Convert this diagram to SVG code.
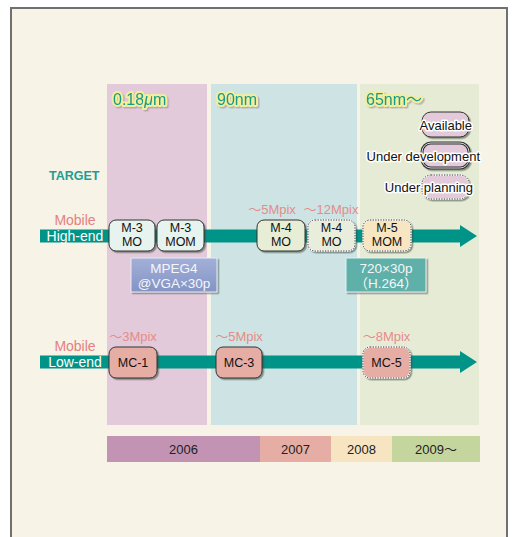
<svg xmlns="http://www.w3.org/2000/svg" width="512" height="537" viewBox="0 0 512 537">
<defs>
<style>
.f{font-family:"Liberation Sans","Noto Sans CJK JP",sans-serif}
.era{font-size:16px;fill:#1a9a88;stroke:#f3ee9c;stroke-width:4;paint-order:stroke;stroke-linejoin:round}
.nt{font-size:12.5px;fill:#111;text-anchor:middle}
.mp{font-size:13px;fill:#e58c8a;text-anchor:middle}
.lg{font-size:13px;fill:#111;stroke:#fff;stroke-width:3;paint-order:stroke;stroke-linejoin:round}
.yr{font-size:13px;fill:#222;text-anchor:middle}
.ww{font-size:13.5px;fill:#f4f6fb;text-anchor:middle}
.solid{stroke:#333;stroke-width:1}
.dot{stroke:#333;stroke-width:1;stroke-dasharray:1.3 1.3}
</style>
<filter id="sh" x="-20%" y="-20%" width="150%" height="150%">
<feDropShadow dx="1.5" dy="1.5" stdDeviation="0.4" flood-color="#3a4a3a" flood-opacity="0.55"/>
</filter>
<filter id="esh" x="-10%" y="-20%" width="130%" height="150%">
<feDropShadow dx="1.5" dy="1.5" stdDeviation="0.3" flood-color="#9c8a9a" flood-opacity="0.6"/>
</filter>
<linearGradient id="mg" x1="0" y1="0" x2="0" y2="1">
<stop offset="0" stop-color="#a3b0d8"/>
<stop offset="1" stop-color="#8393c4"/>
</linearGradient>
</defs>

<rect x="0" y="0" width="512" height="537" fill="#ffffff"/>
<rect x="11" y="8" width="496" height="540" fill="#f7f3e7" stroke="#707070" stroke-width="2"/>

<g id="columns">
<rect x="107" y="84" width="100" height="341" fill="#e2cadb"/>
<rect x="211" y="84" width="146" height="341" fill="#cde3e4"/>
<rect x="360" y="84" width="119" height="341" fill="#e5ebd5"/>
</g>

<g id="eras" filter="url(#esh)">
<text class="era f" x="113" y="105">0.18<tspan font-style="italic">μ</tspan>m</text>
<text class="era f" x="217" y="105">90nm</text>
<text class="era f" x="366" y="105">65nm〜</text>
</g>

<text class="f" x="49" y="180" font-size="12.5" font-weight="bold" fill="#1e9e92">TARGET</text>

<g id="legend">
<rect x="422" y="112" width="47" height="25" rx="9" fill="#e2cadb" stroke="#333" stroke-width="1" filter="url(#sh)"/>
<text class="lg f" x="472" y="130" text-anchor="end">Available</text>
<rect x="422" y="143" width="47" height="25" rx="9" fill="#e2cadb" stroke="#333" stroke-width="3" filter="url(#sh)"/>
<rect x="422" y="143" width="47" height="25" rx="9" fill="none" stroke="#fff" stroke-width="0.8"/>
<text class="lg f" x="480" y="161" text-anchor="end">Under development</text>
<rect x="422" y="175" width="47" height="24" rx="9" fill="#e2cadb" stroke="#fff" stroke-width="1.4" filter="url(#sh)"/>
<rect x="422" y="175" width="47" height="24" rx="9" fill="none" class="dot"/>
<text class="lg f" x="473" y="192" text-anchor="end">Under planning</text>
</g>

<g id="connectors">
<path d="M40,229.5 H460 V225 L477,236 L460,247 V242.5 H40 Z" fill="#009488"/>
<path d="M40,355.5 H460 V351 L477,362 L460,373 V368.5 H40 Z" fill="#009488"/>
</g>

<g id="row-labels">
<text x="75" y="225" font-size="14" fill="#e58080" text-anchor="middle" class="f">Mobile</text>
<text x="75" y="241" font-size="14" fill="#fff" text-anchor="middle" class="f">High-end</text>
<text x="75" y="351" font-size="14" fill="#e58080" text-anchor="middle" class="f">Mobile</text>
<text x="75" y="366.5" font-size="14" fill="#fff" text-anchor="middle" class="f">Low-end</text>
</g>

<g id="m3mo">
<rect x="109" y="220" width="46" height="31" rx="7" fill="#e6f3ee" class="solid" filter="url(#sh)"/>
<text class="nt f" x="132" y="232">M-3</text>
<text class="nt f" x="132" y="246">MO</text>
</g>
<g id="m3mom">
<rect x="157" y="220" width="47" height="31" rx="7" fill="#e6f3ee" class="solid" filter="url(#sh)"/>
<text class="nt f" x="180.5" y="232">M-3</text>
<text class="nt f" x="180.5" y="246">MOM</text>
</g>
<g id="m4mo-a">
<text class="mp f" x="272" y="214">〜5Mpix</text>
<rect x="257" y="220" width="48" height="31" rx="7" fill="#e8edd6" class="solid" filter="url(#sh)"/>
<text class="nt f" x="281" y="232">M-4</text>
<text class="nt f" x="281" y="246">MO</text>
</g>
<g id="m4mo-b">
<text class="mp f" x="331" y="214">〜12Mpix</text>
<rect x="308" y="220" width="47" height="31" rx="7" fill="#e9eddc" stroke="#fff" stroke-width="1.4" filter="url(#sh)"/>
<rect x="308" y="220" width="47" height="31" rx="7" fill="none" class="dot"/>
<text class="nt f" x="331.5" y="232">M-4</text>
<text class="nt f" x="331.5" y="246">MO</text>
</g>
<g id="m5mom">
<rect x="363" y="220" width="48" height="31" rx="7" fill="#f8e6c3" stroke="#fff" stroke-width="1.4" filter="url(#sh)"/>
<rect x="363" y="220" width="48" height="31" rx="7" fill="none" class="dot"/>
<text class="nt f" x="387" y="232">M-5</text>
<text class="nt f" x="387" y="246">MOM</text>
</g>

<g id="mpeg4">
<rect x="131" y="258" width="86" height="34" fill="url(#mg)" stroke="#e8ecf6" stroke-width="1" filter="url(#sh)"/>
<text class="ww f" x="174" y="273">MPEG4</text>
<text class="ww f" x="174" y="288">@VGA×30p</text>
</g>
<g id="h264">
<rect x="346" y="258" width="80" height="34" fill="#5fb0a8" stroke="#e3f1ef" stroke-width="1" filter="url(#sh)"/>
<text class="ww f" x="386" y="273">720×30p</text>
<text class="ww f" x="386" y="288">（H.264）</text>
</g>

<g id="mc1">
<text class="mp f" x="133" y="341">〜3Mpix</text>
<rect x="109" y="347" width="48" height="31" rx="7" fill="#e6ada5" class="solid" filter="url(#sh)"/>
<text class="nt f" x="133" y="367">MC-1</text>
</g>
<g id="mc3">
<text class="mp f" x="239" y="341">〜5Mpix</text>
<rect x="216" y="347" width="46" height="31" rx="7" fill="#e6ada5" class="solid" filter="url(#sh)"/>
<text class="nt f" x="239" y="367">MC-3</text>
</g>
<g id="mc5">
<text class="mp f" x="386.5" y="341">〜8Mpix</text>
<rect x="363" y="347" width="47" height="31" rx="7" fill="#e6ada5" stroke="#fff" stroke-width="1.4" filter="url(#sh)"/>
<rect x="363" y="347" width="47" height="31" rx="7" fill="none" class="dot"/>
<text class="nt f" x="386.5" y="367">MC-5</text>
</g>

<g id="years">
<rect x="107" y="436" width="153" height="26" fill="#c393b3"/>
<rect x="260" y="436" width="71" height="26" fill="#e5ada3"/>
<rect x="331" y="436" width="61" height="26" fill="#f7e5c2"/>
<rect x="392" y="436" width="88" height="26" fill="#c4d69e"/>
<text class="yr f" x="183.5" y="454">2006</text>
<text class="yr f" x="295.5" y="454">2007</text>
<text class="yr f" x="361.5" y="454">2008</text>
<text class="yr f" x="436" y="454">2009〜</text>
</g>
</svg>
